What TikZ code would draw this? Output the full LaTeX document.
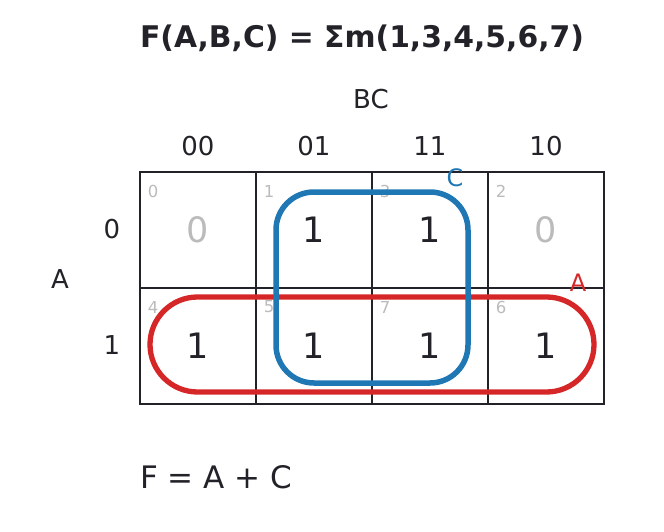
\documentclass[tikz,border=0pt]{standalone}
\usepackage{fontspec}
\setmainfont{DejaVu Sans}
\definecolor{inkc}{RGB}{34,34,40}
\definecolor{grayc}{RGB}{187,187,187}
\definecolor{redc}{RGB}{214,39,40}
\definecolor{bluec}{RGB}{31,119,180}
\begin{document}
\begin{tikzpicture}[x=1pt,y=-1pt,
  gridline/.style={draw=inkc,line width=2.5pt},
  lbl/.style={inner sep=0pt,text=inkc,font=\fontsize{26}{30}\selectfont},
  cellone/.style={inner sep=0pt,text=inkc,font=\fontsize{35}{40}\selectfont},
  cellzero/.style={inner sep=0pt,text=grayc,font=\fontsize{35}{40}\selectfont},
  idx/.style={inner sep=0pt,text=grayc,font=\fontsize{16.5}{20}\selectfont},
  loopc/.style={draw=bluec,line width=5.5pt},
  loopa/.style={draw=redc,line width=5.3pt}]
\useasboundingbox (0,0) rectangle (664,532);
\node[inner sep=0pt,text=inkc,font=\bfseries\fontsize{29.8}{34}\selectfont] (title) at (362,38) {F(A,B,C) = Σm(1,3,4,5,6,7)};
\node[lbl] (bc) at (371,99) {BC};
\node[lbl] (c00) at (198,146) {00};
\node[lbl] (c01) at (314,146) {01};
\node[lbl] (c11) at (430,146) {11};
\node[lbl] (c10) at (546,146) {10};
\node[lbl] (r0) at (112,229) {0};
\node[lbl] (r1) at (112,345) {1};
\node[lbl] (alab) at (60,279) {A};
% grid
\draw[gridline] (140,172) rectangle (604,404);
\foreach \x in {256,372,488} \draw[gridline] (\x,172) -- (\x,404);
\draw[gridline] (140,288) -- (604,288);
% indices
\node[idx] (i0) at (153,191) {0};
\node[idx] (i1) at (269,191) {1};
\node[idx] (i3) at (385,191) {3};
\node[idx] (i2) at (501,191) {2};
\node[idx] (i4) at (153,307) {4};
\node[idx] (i5) at (269,307) {5};
\node[idx] (i7) at (385,307) {7};
\node[idx] (i6) at (501,307) {6};
% values
\node[cellzero] (v0) at (198,230) {0};
\node[cellone] (v1) at (314,230) {1};
\node[cellone] (v3) at (430,230) {1};
\node[cellzero] (v2) at (546,230) {0};
\node[cellone] (v4) at (198,346) {1};
\node[cellone] (v5) at (314,346) {1};
\node[cellone] (v7) at (430,346) {1};
\node[cellone] (v6) at (546,346) {1};
% groups
\draw[loopa,rounded corners=47.5pt] (150,297) rectangle (594,392);
\draw[loopc,rounded corners=38pt] (276,192) rectangle (468,383);
\node[inner sep=0pt,text=bluec,font=\fontsize{24}{28}\selectfont] (clab) at (455,178) {C};
\node[inner sep=0pt,text=redc,font=\fontsize{24}{28}\selectfont] (alab2) at (578,283) {A};
\node[inner sep=0pt,anchor=west,text=inkc,font=\fontsize{31}{36}\selectfont] (eq) at (140,477) {F = A + C};
\end{tikzpicture}
\end{document}
